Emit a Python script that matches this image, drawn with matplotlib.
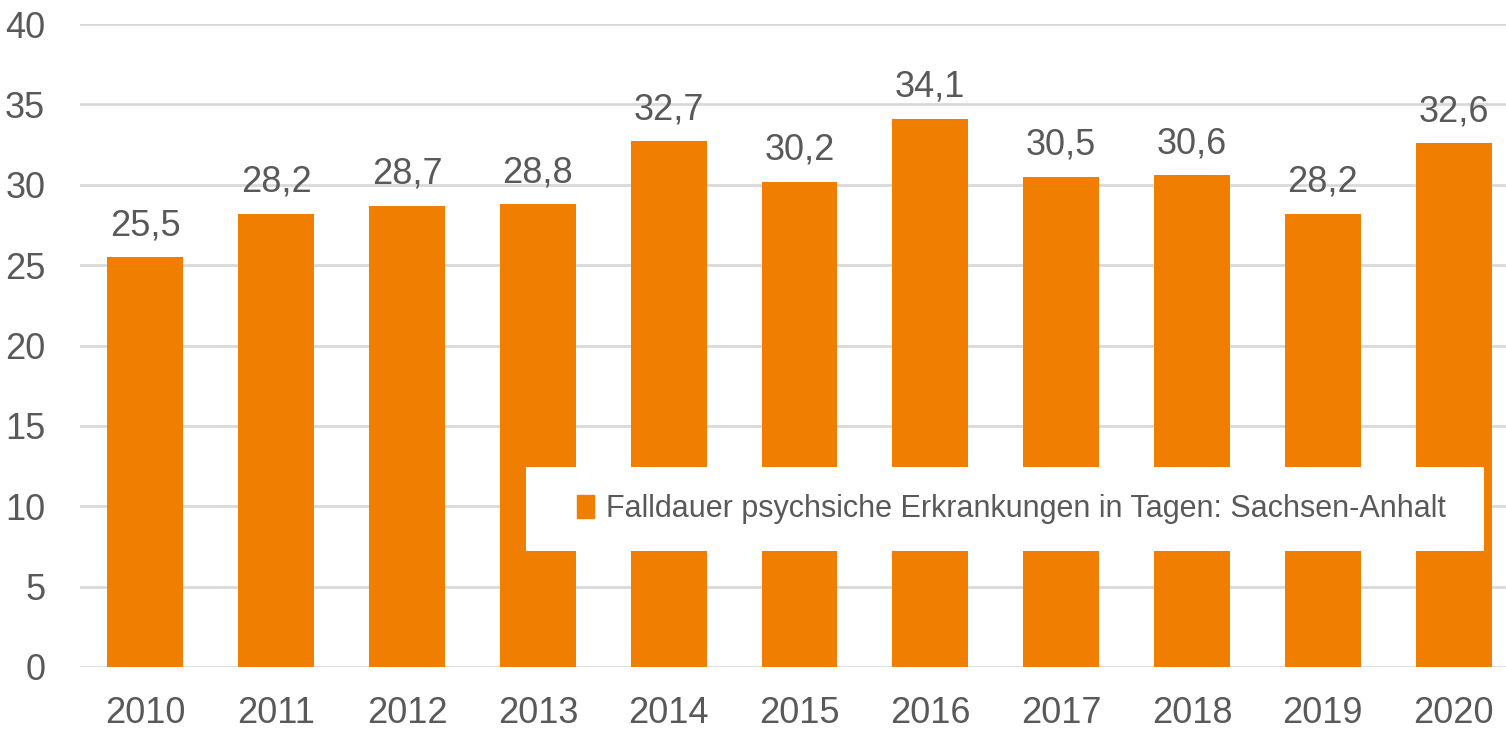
import matplotlib.pyplot as plt
from matplotlib.patches import Patch, Rectangle

years = ['2010', '2011', '2012', '2013', '2014', '2015', '2016', '2017', '2018', '2019', '2020']
values = [25.5, 28.2, 28.7, 28.8, 32.7, 30.2, 34.1, 30.5, 30.6, 28.2, 32.6]
series_name = 'Falldauer psychsiche Erkrankungen in Tagen: Sachsen-Anhalt'

orange = '#F07E00'
gray = '#595959'
grid = '#D9D9D9'

plt.rcParams['font.family'] = ['Liberation Sans', 'DejaVu Sans']

fig = plt.figure(figsize=(15.06, 7.29), dpi=100)
ax = fig.add_axes([80 / 1506, 62 / 729, 1439 / 1506, 643 / 729])

x = list(range(len(years)))
bars = ax.bar(x, values, width=0.58, color=orange, zorder=2)
labels = [f'{v:.1f}'.replace('.', ',') for v in values]
ax.bar_label(bars, labels=labels, padding=10, fontsize=26, color=gray)

ax.set_xlim(-0.5, 10.5)
ax.set_ylim(0, 40)
ax.set_yticks(range(0, 41, 5))
ax.set_xticks(x)
ax.set_xticklabels(years)
ax.yaxis.grid(True, color=grid, linewidth=2, zorder=0)
ax.set_axisbelow(True)
for s in ax.spines.values():
    s.set_visible(False)
ax.tick_params(axis='both', length=0, labelsize=26, labelcolor=gray)
ax.tick_params(axis='x', pad=21)
ax.tick_params(axis='y', pad=25)

# white legend box
fig.patches.append(Rectangle((526 / 1506, 1 - 551 / 729), 958 / 1506, 84 / 729,
                             transform=fig.transFigure, facecolor='white',
                             edgecolor='none', zorder=1))
fig.legend(handles=[Patch(color=orange)], labels=[series_name],
           loc='center', bbox_to_anchor=(0.6716, 0.302),
           fontsize=22, frameon=False,
           handlelength=0.55, handleheight=0.8, handletextpad=0.4,
           borderpad=0, labelcolor=gray)

fig.savefig('out.png', dpi=100)
